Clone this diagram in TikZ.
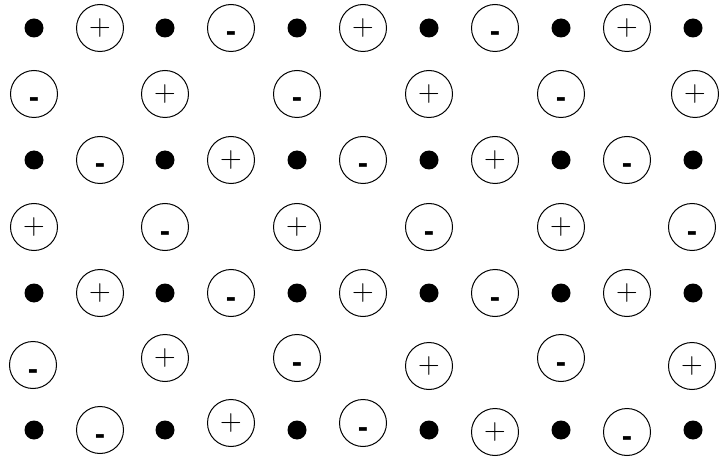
\documentclass[tikz,border=0pt]{standalone}
\usepackage{fontspec}
\newfontfamily\minusfont{Liberation Sans}
\newcommand{\ionplus}{\raisebox{-2pt}{\fontsize{30}{30}\selectfont +}}
\newcommand{\ionminus}{\raisebox{-14pt}[0pt][0pt]{\minusfont\bfseries\fontsize{31}{31}\selectfont -}}
\tikzset{
  ion/.style={circle,draw,line width=1pt,minimum size=47pt,inner sep=0pt},
  atom/.style={circle,fill=black,minimum size=19pt,inner sep=0pt},
}

\begin{document}
\begin{tikzpicture}[x=1pt,y=-1pt]
\useasboundingbox (0,0) rectangle (720,457);
% neutral atoms
\foreach \r/\y in {1/28,3/160,5/293,7/430}
  \foreach \c/\x in {1/34,2/165,3/297,4/429,5/561,6/693}
    \node[atom] (a\r-\c) at (\x,\y) {};
% ions between the atoms
\foreach \c/\x/\y/\s in {1/100/28/\ionplus,2/231/28/\ionminus,3/363/28/\ionplus,4/495/28/\ionminus,5/627/28/\ionplus}
  \node[ion] (i1-\c) at (\x,\y) {\s};
\foreach \c/\x/\y/\s in {1/34/94/\ionminus,2/165/94/\ionplus,3/297/94/\ionminus,4/429/94/\ionplus,5/561/94/\ionminus,6/695/94/\ionplus}
  \node[ion] (i2-\c) at (\x,\y) {\s};
\foreach \c/\x/\y/\s in {1/100/160/\ionminus,2/231/160/\ionplus,3/363/160/\ionminus,4/495/160/\ionplus,5/627/160/\ionminus}
  \node[ion] (i3-\c) at (\x,\y) {\s};
\foreach \c/\x/\y/\s in {1/34/227/\ionplus,2/165/227/\ionminus,3/297/227/\ionplus,4/429/227/\ionminus,5/561/227/\ionplus,6/692/227/\ionminus}
  \node[ion] (i4-\c) at (\x,\y) {\s};
\foreach \c/\x/\y/\s in {1/100/293/\ionplus,2/231/293/\ionminus,3/363/293/\ionplus,4/495/293/\ionminus,5/627/293/\ionplus}
  \node[ion] (i5-\c) at (\x,\y) {\s};
\foreach \c/\x/\y/\s in {1/33/365/\ionminus,2/165/358/\ionplus,3/297/358/\ionminus,4/429/366/\ionplus,5/561/358/\ionminus,6/692/366/\ionplus}
  \node[ion] (i6-\c) at (\x,\y) {\s};
\foreach \c/\x/\y/\s in {1/100/430/\ionminus,2/231/423/\ionplus,3/363/423/\ionminus,4/495/432/\ionplus,5/627/432/\ionminus}
  \node[ion] (i7-\c) at (\x,\y) {\s};
\end{tikzpicture}
\end{document}
